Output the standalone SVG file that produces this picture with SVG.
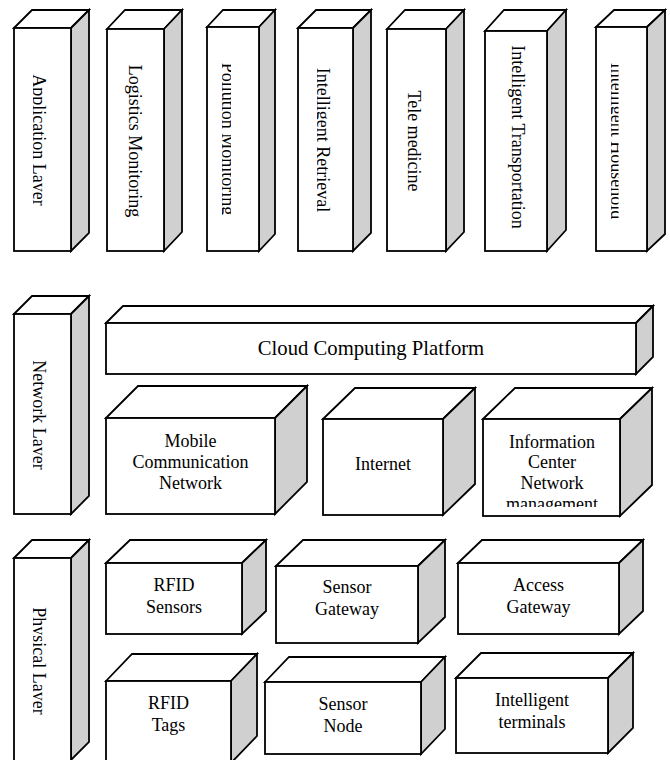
<svg xmlns="http://www.w3.org/2000/svg" width="670" height="760" viewBox="0 0 670 760">
<style>
.f{fill:#fff;stroke:#000;stroke-width:1.8;stroke-linejoin:miter}
.s{fill:#d0d0d0;stroke:#000;stroke-width:1.8;stroke-linejoin:miter}
.t{font-family:"Liberation Serif","Times New Roman",serif;font-size:18px;fill:#000;text-anchor:middle}
.big{font-size:20.7px}
</style>
<defs>
<clipPath id="cApp"><rect x="33" y="0" width="40" height="300"/></clipPath>
<clipPath id="cPol"><rect x="222" y="0" width="9" height="300"/></clipPath>
<clipPath id="cRet"><rect x="317" y="0" width="36" height="300"/></clipPath>
<clipPath id="cHou"><rect x="611" y="0" width="7.5" height="300"/></clipPath>
<clipPath id="cNet"><rect x="33" y="300" width="40" height="220"/></clipPath>
<clipPath id="cPhy"><rect x="33" y="540" width="40" height="220"/></clipPath>
<clipPath id="cInfo"><rect x="480" y="400" width="145" height="107"/></clipPath>
</defs>
<rect width="670" height="760" fill="#fff"/>

<g id="app-layer">
<polygon class="f" points="14,28 32,10 89,10 71,28"/>
<polygon class="s" points="71,28 89,10 89,233 71,251"/>
<rect class="f" x="14" y="28" width="57" height="223"/>
<g clip-path="url(#cApp)"><text class="t" transform="translate(33,140) rotate(90)">Application Layer</text></g>
</g>
<g id="logistics">
<polygon class="f" points="107,29 125,10 182,10 164,29"/>
<polygon class="s" points="164,29 182,10 182,232 164,251"/>
<rect class="f" x="107" y="29" width="57" height="222"/>
<text class="t" transform="translate(129,141) rotate(90)">Logistics Monitoring</text>
</g>
<g id="pollution">
<polygon class="f" points="207,27 223,10 275,10 259,27"/>
<polygon class="s" points="259,27 275,10 275,234 259,251"/>
<rect class="f" x="207" y="27" width="52" height="224"/>
<g clip-path="url(#cPol)"><text class="t" transform="translate(222,139) rotate(90)">Pollution Monitoring</text></g>
</g>
<g id="retrieval">
<polygon class="f" points="298,28 316,10 371,10 353,28"/>
<polygon class="s" points="353,28 371,10 371,233 353,251"/>
<rect class="f" x="298" y="28" width="55" height="223"/>
<g clip-path="url(#cRet)"><text class="t" transform="translate(317,140) rotate(90)">Intelligent Retrieval</text></g>
</g>
<g id="telemedicine">
<polygon class="f" points="387,29 405,10 464,10 446,29"/>
<polygon class="s" points="446,29 464,10 464,232 446,251"/>
<rect class="f" x="387" y="29" width="59" height="222"/>
<text class="t" transform="translate(408,141) rotate(90)">Tele medicine</text>
</g>
<g id="transportation">
<polygon class="f" points="485,31 504,10 566,10 547,31"/>
<polygon class="s" points="547,31 566,10 566,230 547,251"/>
<rect class="f" x="485" y="31" width="62" height="220"/>
<text class="t" transform="translate(512,137) rotate(90)">Intelligent Transportation</text>
</g>
<g id="household">
<polygon class="f" points="596,27 614,10 665,10 647,27"/>
<polygon class="s" points="647,27 665,10 665,234 647,251"/>
<rect class="f" x="596" y="27" width="51" height="224"/>
<g clip-path="url(#cHou)"><text class="t" transform="translate(611,141) rotate(90)">Intelligent Household</text></g>
</g>

<g id="network-layer">
<polygon class="f" points="14,314 32,296 89,296 71,314"/>
<polygon class="s" points="71,314 89,296 89,496 71,514"/>
<rect class="f" x="14" y="314" width="57" height="200"/>
<g clip-path="url(#cNet)"><text class="t" transform="translate(33,415) rotate(90)">Network Layer</text></g>
</g>
<g id="cloud">
<polygon class="f" points="106,323 123,306 653,306 636,323"/>
<polygon class="s" points="636,323 653,306 653,357 636,374"/>
<rect class="f" x="106" y="323" width="530" height="51"/>
<text class="t big" x="371" y="355">Cloud Computing Platform</text>
</g>
<g id="mobile">
<polygon class="f" points="106,418 138,386 307,386 275,418"/>
<polygon class="s" points="275,418 307,386 307,482 275,514"/>
<rect class="f" x="106" y="418" width="169" height="96"/>
<text class="t" x="190.5" y="447">Mobile</text>
<text class="t" x="190.5" y="468">Communication</text>
<text class="t" x="190.5" y="489">Network</text>
</g>
<g id="internet">
<polygon class="f" points="323,419 355,388 475,388 443,419"/>
<polygon class="s" points="443,419 475,388 475,484 443,515"/>
<rect class="f" x="323" y="419" width="120" height="96"/>
<text class="t" x="383" y="470">Internet</text>
</g>
<g id="info-center">
<polygon class="f" points="483,419 515,388 652,388 620,419"/>
<polygon class="s" points="620,419 652,388 652,485 620,516"/>
<rect class="f" x="483" y="419" width="137" height="97"/>
<g clip-path="url(#cInfo)">
<text class="t" x="552" y="448">Information</text>
<text class="t" x="552" y="468">Center</text>
<text class="t" x="552" y="489">Network</text>
<text class="t" x="552" y="510">management</text>
</g>
</g>

<g id="physical-layer">
<polygon class="f" points="14,558 32,540 89,540 71,558"/>
<polygon class="s" points="71,558 89,540 89,742 71,760"/>
<rect class="f" x="14" y="558" width="57" height="204"/>
<g clip-path="url(#cPhy)"><text class="t" transform="translate(33,661) rotate(90)">Physical Layer</text></g>
</g>
<g id="rfid-sensors">
<polygon class="f" points="106,563 130,540 266,540 242,563"/>
<polygon class="s" points="242,563 266,540 266,611 242,634"/>
<rect class="f" x="106" y="563" width="136" height="71"/>
<text class="t" x="174" y="591">RFID</text>
<text class="t" x="174" y="613">Sensors</text>
</g>
<g id="sensor-gateway">
<polygon class="f" points="276,566 303,540 445,540 418,566"/>
<polygon class="s" points="418,566 445,540 445,617 418,643"/>
<rect class="f" x="276" y="566" width="142" height="77"/>
<text class="t" x="347" y="593">Sensor</text>
<text class="t" x="347" y="615">Gateway</text>
</g>
<g id="access-gateway">
<polygon class="f" points="458,563 482,540 643,540 619,563"/>
<polygon class="s" points="619,563 643,540 643,611 619,634"/>
<rect class="f" x="458" y="563" width="161" height="71"/>
<text class="t" x="538.5" y="591">Access</text>
<text class="t" x="538.5" y="613">Gateway</text>
</g>
<g id="rfid-tags">
<polygon class="f" points="106,681 132,654 257,654 231,681"/>
<polygon class="s" points="231,681 257,654 257,736 231,763"/>
<rect class="f" x="106" y="681" width="125" height="82"/>
<text class="t" x="168.5" y="709">RFID</text>
<text class="t" x="168.5" y="731">Tags</text>
</g>
<g id="sensor-node">
<polygon class="f" points="265,682 289,657 445,657 421,682"/>
<polygon class="s" points="421,682 445,657 445,729 421,754"/>
<rect class="f" x="265" y="682" width="156" height="72"/>
<text class="t" x="343" y="710">Sensor</text>
<text class="t" x="343" y="732">Node</text>
</g>
<g id="intelligent-terminals">
<polygon class="f" points="456,678 481,653 633,653 608,678"/>
<polygon class="s" points="608,678 633,653 633,728 608,753"/>
<rect class="f" x="456" y="678" width="152" height="75"/>
<text class="t" x="532" y="706">Intelligent</text>
<text class="t" x="532" y="728">terminals</text>
</g>
<g id="connectors"/>
</svg>
